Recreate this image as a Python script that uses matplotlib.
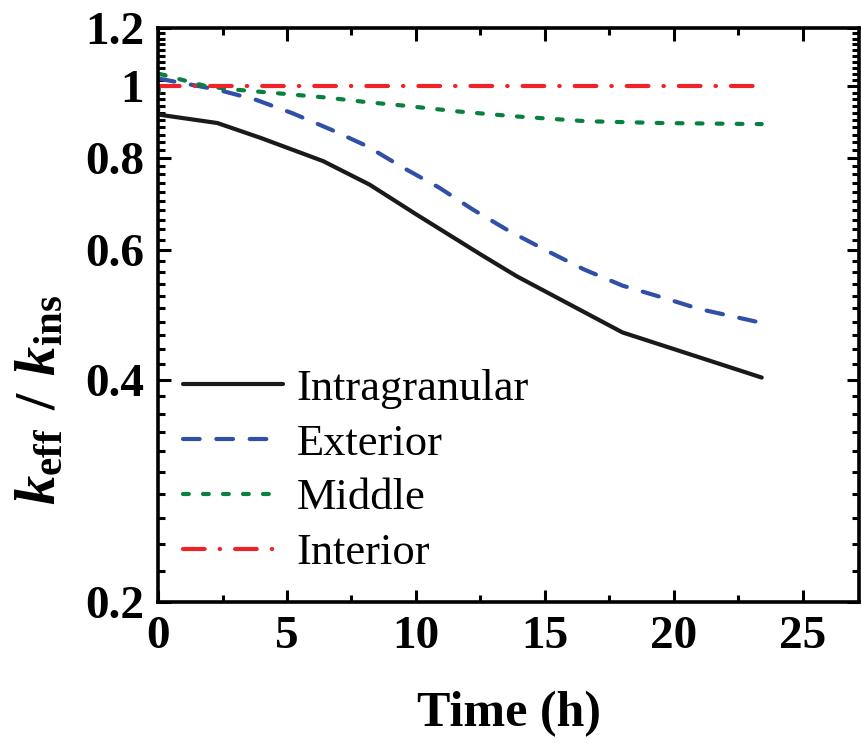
import matplotlib
matplotlib.use('Agg')
import matplotlib.pyplot as plt
from matplotlib.ticker import FixedLocator, NullFormatter, MultipleLocator
import numpy as np

plt.rcParams['font.family'] = ['Liberation Serif', 'DejaVu Serif']
plt.rcParams['mathtext.fontset'] = 'custom'
plt.rcParams['mathtext.rm'] = 'Liberation Serif'
plt.rcParams['mathtext.bf'] = 'Liberation Serif:bold'
plt.rcParams['mathtext.it'] = 'Liberation Serif:italic'
plt.rcParams['mathtext.bfit'] = 'Liberation Serif:italic:bold'

# k_eff / k_ins versus time for each region
t_intra = [0.0, 2.3, 4.0, 6.4, 8.2, 10.0, 12.5, 13.9, 18.0, 23.4]
k_intra = [0.916, 0.892, 0.851, 0.792, 0.736, 0.671, 0.592, 0.553, 0.464, 0.403]

t_ext = [0.0, 2.3, 3.8, 5.2, 6.7, 8.1, 9.5, 10.9, 12.2, 13.6, 15.1, 16.5, 18.0, 19.5, 21.0, 23.4]
k_ext = [1.025, 0.990, 0.959, 0.920, 0.874, 0.830, 0.776, 0.729, 0.681, 0.637,
         0.598, 0.565, 0.537, 0.518, 0.499, 0.478]

t_mid = [0.0, 0.05, 1.9, 3.0, 4.9, 6.5, 8.1, 9.5, 11.6, 13.8, 16.6, 19.5, 23.4]
k_mid = [0.92, 1.04, 1.000, 0.990, 0.977, 0.966, 0.952, 0.942, 0.925, 0.911,
         0.897, 0.892, 0.889]

t_int = [0.0, 23.4]
k_int = [1.0, 1.0]

x_ticks = [0, 5, 10, 15, 20, 25]
y_ticks = [0.2, 0.4, 0.6, 0.8, 1.0, 1.2]
y_tick_labels = ['0.2', '0.4', '0.6', '0.8', '1', '1.2']

fig = plt.figure(figsize=(8.61, 7.44), dpi=100)
ax = fig.add_axes([158 / 861, 1 - 602 / 744, (859.5 - 158) / 861, (602 - 28) / 744])

lw = 3.0
ax.plot(t_intra, k_intra, color='#1a1a1a', lw=lw, label='Intragranular',
        solid_capstyle='round')
ax.plot(t_ext, k_ext, color='#3050a8', lw=lw, dashes=(4.0, 4.0),
        dash_capstyle='round', label='Exterior')
ax.plot(t_mid, k_mid, color='#0a8040', lw=lw, dashes=(1.4, 3.4),
        dash_capstyle='round', label='Middle')
ax.plot(t_int, k_int, color='#ee2229', lw=lw, dashes=(5.2, 3.6, 0.1, 3.6),
        dash_capstyle='round', label='Interior')

ax.set_yscale('log')
ax.set_xlim(0, (859.5 - 158) / 25.8)
ax.set_ylim(0.2, 1.2)

ax.xaxis.set_major_locator(FixedLocator(x_ticks))
ax.xaxis.set_minor_locator(MultipleLocator(2.5))
ax.yaxis.set_major_locator(FixedLocator(y_ticks))
ax.yaxis.set_major_formatter(plt.FixedFormatter(y_tick_labels))
ax.yaxis.set_minor_locator(FixedLocator(np.arange(0.22, 1.2, 0.02)))
ax.yaxis.set_minor_formatter(NullFormatter())

ax.tick_params(which='both', direction='in', top=True, right=True, width=2.2)
ax.tick_params(which='major', length=9, labelsize=34, pad=10)
ax.tick_params(which='minor', length=5)
for lab in ax.get_xticklabels() + ax.get_yticklabels():
    lab.set_fontweight('bold')
for s in ax.spines.values():
    s.set_linewidth(2.6)

ax.set_xlabel('Time (h)', fontsize=36, fontweight='bold', labelpad=24)
ax.set_ylabel(r'$\mathbfit{k}_{\mathbf{eff}}\:\:\mathbf{/}\:\:\mathbfit{k}_{\mathbf{ins}}$',
              fontsize=42)
ax.yaxis.set_label_coords(-0.13, 0.352)

ax.legend(loc='lower left', bbox_to_anchor=(-0.005, 0.0), frameon=False,
          fontsize=32, handlelength=2.25, handletextpad=0.3,
          labelspacing=0.33, borderaxespad=0.25)

plt.savefig('out.png', dpi=100)
